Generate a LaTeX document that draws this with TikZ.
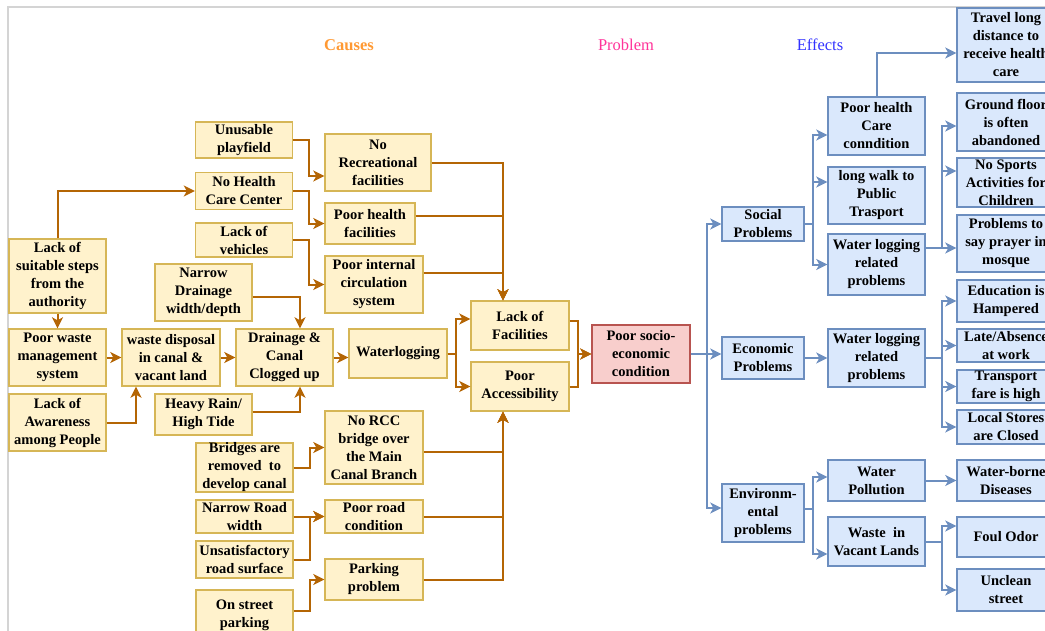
\documentclass[tikz,border=0pt]{standalone}
\usepackage{fontspec}
\setmainfont{Liberation Serif}
\usepackage{tikz}
\usetikzlibrary{positioning,arrows.meta,calc}
\definecolor{causefill}{HTML}{FFF2CC}
\definecolor{causeline}{HTML}{D6B656}
\definecolor{causearrow}{HTML}{B46504}
\definecolor{probfill}{HTML}{F8CECC}
\definecolor{probline}{HTML}{B85450}
\definecolor{efffill}{HTML}{DAE8FC}
\definecolor{effline}{HTML}{6C8EBF}
\definecolor{causetitle}{HTML}{FF9933}
\definecolor{probtitle}{HTML}{FF3399}
\definecolor{efftitle}{HTML}{3333FF}
\definecolor{framegray}{HTML}{D4D4D4}
\begin{document}
\begin{tikzpicture}[x=1pt,y=-1pt,
                box/.style={draw, line width=1.4pt, align=center, inner sep=0pt,
                    font=\fontsize{14.5}{18}\selectfont\bfseries},
                cause/.style={box, draw=causeline, fill=causefill, minimum width=97},
                problem/.style={box, draw=probline, fill=probfill, minimum width=98},
                effect/.style={box, draw=effline, fill=efffill, minimum width=97},
                title/.style={font=\fontsize{16.5}{18}\selectfont},
                carrow/.style={draw=causearrow, line width=2pt, -{Stealth[length=11pt,width=11pt,inset=3pt]}},
                earrow/.style={draw=effline, line width=2pt, -{Stealth[length=11pt,width=11pt,inset=3pt]}}]
            \useasboundingbox (0,0) rectangle (1045,630);
            \clip (0,0) rectangle (1045,630);
            \draw[framegray, line width=2pt] (8,640) |- (1050,7);
            \node[title, text=causetitle, font=\fontsize{16.5}{18}\selectfont\bfseries] (causes) at (349,45) {Causes};
            \node[title, text=probtitle] (problem) at (626,45) {Problem};
            \node[title, text=efftitle] (effects) at (820,45) {Effects};

            \node[cause, minimum height=74] (lss) at (57.5,276) {Lack of\\suitable steps\\from the\\authority};
            \node[cause, minimum height=57] (pws) at (57.5,357.5) {Poor waste\\management\\system};
            \node[cause, minimum height=57] (law) at (57.5,422.5) {Lack of\\Awareness\\among People};
            \node[cause, minimum height=57, minimum width=98] (wdc) at (171,357.5) {waste disposal\\in canal \&\\vacant land};
            \node[cause, minimum height=57] (ndd) at (203.5,292.5) {Narrow\\Drainage\\width/depth};
            \node[cause, minimum height=41] (hrt) at (203.5,414.5) {Heavy Rain/\\High Tide};
            \node[cause, minimum height=57] (dcc) at (284.5,357.5) {Drainage \&\\Canal\\Clogged up};
            \node[cause, minimum height=36] (upf) at (244,140) {Unusable\\playfield};
            \node[cause, minimum height=37] (nhc) at (244,191) {No Health\\Care Center};
            \node[cause, minimum height=34] (lov) at (244,240) {Lack of\\vehicles};
            \node[cause, minimum height=57, minimum width=106] (nrf) at (378,162.5) {No\\Recreational\\facilities};
            \node[cause, minimum height=41, minimum width=90] (phf) at (370,223.5) {Poor health\\facilities};
            \node[cause, minimum height=57, minimum width=98] (pic) at (374,284.5) {Poor internal\\circulation\\system};
            \node[cause, minimum height=49, minimum width=98] (wlg) at (398,353.5) {Waterlogging};
            \node[cause, minimum height=49, minimum width=98] (lof) at (520,325.5) {Lack of\\Facilities};
            \node[cause, minimum height=49, minimum width=98] (pac) at (520,386.5) {Poor\\Accessibility};
            \node[problem, minimum height=58] (pse) at (641,354) {Poor socio-\\economic\\condition};
            \node[cause, minimum height=73, minimum width=98] (nrc) at (374,447.5) {No RCC\\bridge over\\the Main\\Canal Branch};
            \node[cause, minimum height=49] (brc) at (244.5,467.5) {Bridges are\\removed\ \ to\\develop canal};
            \node[cause, minimum height=33] (nrw) at (244.5,516.5) {Narrow Road\\width};
            \node[cause, minimum height=37] (usr) at (244.5,559.5) {Unsatisfactory\\road surface};
            \node[cause, minimum height=33, minimum width=98] (prc) at (374,516.5) {Poor road\\condition};
            \node[cause, minimum height=41, minimum width=98] (pkp) at (374,579.5) {Parking\\problem};
            \node[cause, minimum height=50] (osp) at (244.5,615) {On street\\parking};

            \node[effect, minimum height=34, minimum width=82] (spb) at (763,224) {Social\\Problems};
            \node[effect, minimum height=42, minimum width=82] (epb) at (763,358) {Economic\\Problems};
            \node[effect, minimum height=58, minimum width=82] (evp) at (763,513) {Environm-\\ental\\problems};
            \node[effect, minimum height=58] (phc) at (876.5,126) {Poor health\\Care\\conndition};
            \node[effect, minimum height=57] (lwp) at (876.5,195.5) {long walk to\\Public\\Trasport};
            \node[effect, minimum height=61] (wls) at (876.5,264.5) {Water logging\\related\\problems};
            \node[effect, minimum height=58] (wle) at (876.5,358) {Water logging\\related\\problems};
            \node[effect, minimum height=41] (wpl) at (876.5,480.5) {Water\\Pollution};
            \node[effect, minimum height=49] (wvl) at (876.5,541.5) {Waste\ \ in\\Vacant Lands};
            \node[effect, minimum height=74, minimum width=98] (tld) at (1006,45) {Travel long\\distance to\\receive health\\care};
            \node[effect, minimum height=58, minimum width=98] (gfa) at (1006,122) {Ground floor\\is often\\abandoned};
            \node[effect, minimum height=49, minimum width=98] (nsa) at (1006,182.5) {No Sports\\Activities for\\Children};
            \node[effect, minimum height=57, minimum width=98] (ptp) at (1006,243.5) {Problems to\\say prayer in\\mosque};
            \node[effect, minimum height=42, minimum width=98] (ehp) at (1006,301) {Education is\\Hampered};
            \node[effect, minimum height=33, minimum width=98] (lab) at (1006,345.5) {Late/Absence\\at work};
            \node[effect, minimum height=33, minimum width=98] (tfh) at (1006,386.5) {Transport\\fare is high};
            \node[effect, minimum height=34, minimum width=98] (lsc) at (1006,427) {Local Stores\\are Closed};
            \node[effect, minimum height=41, minimum width=98] (wbd) at (1006,480.5) {Water-borne\\Diseases};
            \node[effect, minimum height=40, minimum width=98] (fod) at (1006,537) {Foul Odor};
            \node[effect, minimum height=42, minimum width=98] (ucs) at (1006,590) {Unclean\\street};

            \coordinate (fj) at ([xshift=-17]lof.north);
            \coordinate (aj) at ([xshift=-17]pac.south);
            \draw[carrow] (lss.north) |- (nhc.west);
            \draw[carrow] (lss) -- (pws);
            \draw[carrow] (pws) -- (wdc);
            \draw[carrow] (law.east) -| ([xshift=-35]wdc.south);
            \draw[carrow] (wdc) -- (dcc);
            \draw[carrow] ([yshift=-4.5]ndd.east) -| ([xshift=15.5]dcc.north);
            \draw[carrow] ([yshift=2.5]hrt.east) -| ([xshift=15.5]dcc.south);
            \draw[carrow] (dcc.east) -- (dcc.east -| wlg.west);
            \draw[carrow] (wlg.east) -- ++(8,0) |- ([yshift=6.5]lof.west);
            \draw[carrow] (wlg.east) -- ++(8,0) |- (pac.west);
            \draw[carrow] (upf.east) -- ++(16,0) |- ([yshift=-13.5]nrf.west);
            \draw[carrow] (nhc.east) -- ++(16,0) |- (phf.west);
            \draw[carrow] (lov.east) -- ++(16,0) |- (pic.west);
            \draw[carrow] (nrf.east) -| (fj);
            \draw[carrow] ([yshift=7.5]phf.east) -| (fj);
            \draw[carrow] ([yshift=11.5]pic.east) -| (fj);
            \draw[carrow] ([yshift=4.5]lof.east) -- ++(8,0) |- (pse.west);
            \draw[carrow] (pac.east) -- ++(8,0) |- (pse.west);
            \draw[carrow] ([yshift=-4.5]nrc.east) -| (aj);
            \draw[carrow] (prc.east) -| (aj);
            \draw[carrow] (pkp.east) -| (aj);
            \draw[carrow] (brc.east) -- ++(16,0) |- (nrc.west);
            \draw[carrow] (nrw) -- (prc);
            \draw[carrow] (usr.east) -- ++(16,0) |- (prc.west);
            \draw[carrow] ([yshift=4]osp.east) -- ++(16,0) |- (pkp.west);

            \draw[earrow] (pse.east) -- ++(16,0) |- (spb.west);
            \draw[earrow] (pse.east) -- (pse.east -| epb.west);
            \draw[earrow] (pse.east) -- ++(16,0) |- ([yshift=5]evp.west);
            \draw[earrow] (spb.east) -- ++(8,0) |- ([yshift=-9]phc.west);
            \draw[earrow] (spb.east) -- ++(8,0) |- ([yshift=13.5]lwp.west);
            \draw[earrow] (spb.east) -- ++(8,0) |- (wls.west);
            \draw[earrow] (epb) -- (wle);
            \draw[earrow] ([yshift=4]evp.east) -- ++(8,0) |- ([yshift=3.5]wpl.west);
            \draw[earrow] ([yshift=4]evp.east) -- ++(8,0) |- ([yshift=-12.5]wvl.west);
            \draw[earrow] (phc.north) |- ([yshift=-8]tld.west);
            \draw[earrow] ([yshift=16.5]wls.east) -- ++(16,0) |- ([yshift=-4]gfa.west);
            \draw[earrow] ([yshift=16.5]wls.east) -- ++(16,0) |- ([yshift=11.5]nsa.west);
            \draw[earrow] ([yshift=16.5]wls.east) -- ++(16,0) |- ([yshift=-4.5]ptp.west);
            \draw[earrow] (wle.east) -- ++(16,0) |- (ehp.west);
            \draw[earrow] (wle.east) -- ++(16,0) |- (lab.west);
            \draw[earrow] (wle.east) -- ++(16,0) |- (tfh.west);
            \draw[earrow] (wle.east) -- ++(16,0) |- (lsc.west);
            \draw[earrow] (wpl) -- (wbd);
            \draw[earrow] (wvl.east) -- ++(16,0) |- ([yshift=11]fod.west);
            \draw[earrow] (wvl.east) -- ++(16,0) |- (ucs.west);
        \end{tikzpicture}
\end{document}
